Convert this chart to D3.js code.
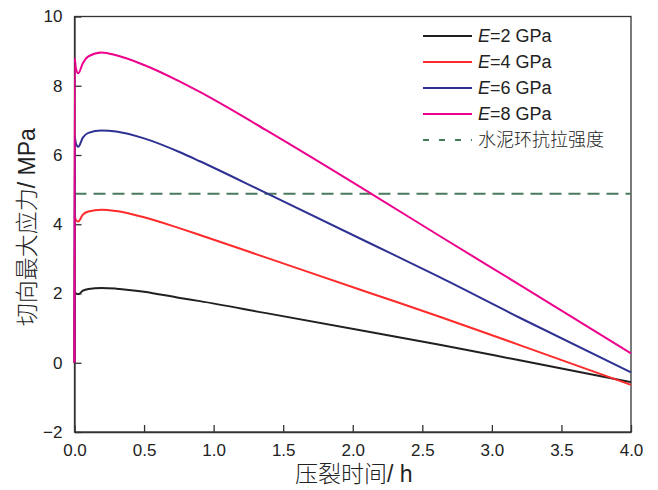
<!DOCTYPE html>
<html>
<head>
<meta charset="utf-8">
<script src="https://cdn.jsdelivr.net/npm/d3@7/dist/d3.min.js"></script>
<style>
  html, body { margin: 0; padding: 0; background: #fff; }
  svg { display: block; }
  text { font-family: "Liberation Sans", Arial, "Noto Sans CJK SC", sans-serif; fill: #222; }
</style>
</head>
<body>
<svg id="chart" width="658" height="490"></svg>
<script>
// Time after fracturing (h)
const times = [0, 0.001, 0.01, 0.027, 0.06, 0.1, 0.195, 0.3, 0.5, 0.758, 0.901, 1.368, 2.134, 2.625, 3.2, 4.0];

// Maximum tangential stress (MPa) for each elastic modulus
const stressE2 = [0, 2.05, 2.00, 1.98, 2.08, 2.13, 2.16, 2.14, 2.05, 1.87, 1.78, 1.44, 0.88, 0.52, 0.07, -0.56];
const stressE4 = [0, 4.22, 4.12, 4.08, 4.28, 4.37, 4.42, 4.38, 4.20, 3.88, 3.69, 3.05, 2.00, 1.33, 0.51, -0.64];
const stressE6 = [0, 6.53, 6.33, 6.24, 6.50, 6.64, 6.71, 6.68, 6.48, 6.08, 5.82, 4.92, 3.43, 2.47, 1.30, -0.28];
const stressE8 = [0, 8.80, 8.50, 8.36, 8.65, 8.85, 8.96, 8.88, 8.60, 8.12, 7.82, 6.74, 4.88, 3.66, 2.25, 0.27];

const seriesNames = ["2", "4", "6", "8"];
const seriesColors = ["#231f20", "#ff2a2a", "#2e3192", "#ec008c"];

// Tensile strength of the cement sheath (MPa)
const tensileStrength = 4.88;
const strengthLabel = "水泥环抗拉强度";

const xTicks = [0, 0.5, 1.0, 1.5, 2.0, 2.5, 3.0, 3.5, 4.0];
const yTicks = [-2, 0, 2, 4, 6, 8, 10];
const xTitle = "压裂时间/ h";
const yTitle = "切向最大应力/ MPa";

const svg = d3.select("#chart");
const margin = { left: 74.5, right: 27, top: 16.5, bottom: 58 };
const W = 658, H = 490;

const x = d3.scaleLinear().domain([0, 4]).range([margin.left, W - margin.right]);
const y = d3.scaleLinear().domain([-2, 10]).range([H - margin.bottom, margin.top]);

const allSeries = [stressE2, stressE4, stressE6, stressE8];

// Frame
svg.append("rect")
  .attr("x", x(0)).attr("y", y(10))
  .attr("width", x(4) - x(0)).attr("height", y(-2) - y(10))
  .attr("fill", "none")
  .attr("stroke", "#333")
  .attr("stroke-width", 1.3);

// Axes with inward ticks
const xAxis = d3.axisBottom(x).tickValues(xTicks).tickFormat(d3.format(".1f"))
  .tickSizeInner(-7).tickSizeOuter(0).tickPadding(12);
const gx = svg.append("g").attr("transform", `translate(0,${y(-2)})`).call(xAxis);

const yAxis = d3.axisLeft(y).tickValues(yTicks).tickFormat(d3.format("d"))
  .tickSizeInner(-7).tickSizeOuter(0).tickPadding(12);
const gy = svg.append("g").attr("transform", `translate(${x(0)},0)`).call(yAxis);

[gx, gy].forEach(g => {
  g.select(".domain").attr("stroke", "#333").attr("stroke-width", 1.3);
  g.selectAll(".tick line").attr("stroke", "#333").attr("stroke-width", 1.3);
  g.selectAll(".tick text")
    .attr("font-size", 17)
    .attr("font-family", "'Liberation Sans', Arial, sans-serif")
    .attr("fill", "#222");
});

// Tensile strength reference line
svg.append("line")
  .attr("x1", x(0)).attr("x2", x(4))
  .attr("y1", y(tensileStrength)).attr("y2", y(tensileStrength))
  .attr("stroke", "#4a7a5c")
  .attr("stroke-width", 2)
  .attr("stroke-dasharray", "12,7");

const line = d3.line()
  .x(d => x(d[0]))
  .y(d => y(d[1]))
  .curve(d3.curveMonotoneX);

// Curves (E=8 drawn last so it sits on top)
allSeries.forEach((vals, i) => {
  svg.append("path")
    .datum(times.map((t, j) => [t, vals[j]]))
    .attr("fill", "none")
    .attr("stroke", seriesColors[i])
    .attr("stroke-width", 2)
    .attr("stroke-linejoin", "round")
    .attr("d", line);
});

// Axis titles
svg.append("text")
  .attr("x", (x(0) + x(4)) / 2 + 1)
  .attr("y", 482)
  .attr("text-anchor", "middle")
  .attr("font-size", 23)
  .attr("font-weight", 300)
  .text(xTitle);

svg.append("text")
  .attr("transform", `translate(35,${(y(-2) + y(10)) / 2 + 3}) rotate(-90)`)
  .attr("text-anchor", "middle")
  .attr("font-size", 23)
  .attr("font-weight", 300)
  .text(yTitle);

// Legend
const legend = svg.append("g");
const lx = 423, ly = 36, dy = 26;
seriesNames.forEach((name, i) => {
  const yy = ly + i * dy;
  legend.append("line")
    .attr("x1", lx).attr("x2", lx + 49)
    .attr("y1", yy).attr("y2", yy)
    .attr("stroke", seriesColors[i]).attr("stroke-width", 2);
  const t = legend.append("text")
    .attr("x", lx + 55).attr("y", yy + 6)
    .attr("font-size", 18);
  t.append("tspan").attr("font-style", "italic").text("E");
  t.append("tspan").text(`=${name} GPa`);
});
{
  const yy = ly + 4 * dy;
  legend.append("line")
    .attr("x1", lx).attr("x2", lx + 49)
    .attr("y1", yy).attr("y2", yy)
    .attr("stroke", "#4a7a5c").attr("stroke-width", 2)
    .attr("stroke-dasharray", "6,10");
  legend.append("text")
    .attr("x", lx + 55).attr("y", yy + 6)
    .attr("font-size", 18)
    .attr("font-weight", 300)
    .text(strengthLabel);
}
</script>
</body>
</html>
